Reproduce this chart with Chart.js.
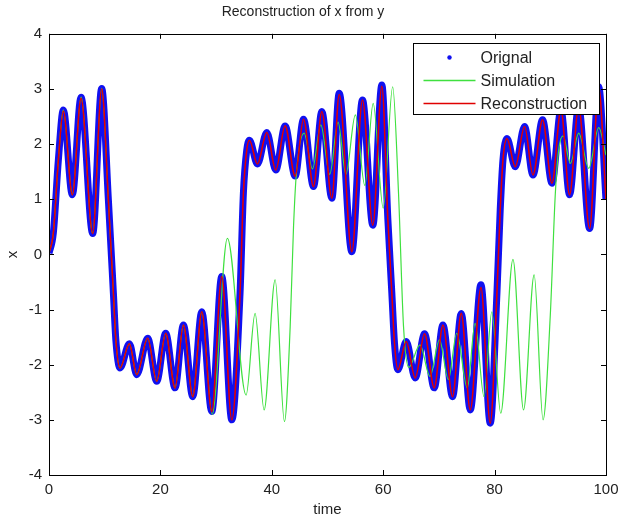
<!DOCTYPE html>
<html>
<head>
<meta charset="utf-8">
<script src="https://cdn.jsdelivr.net/npm/chart.js@4/dist/chart.umd.min.js"></script>
<style>
html,body{margin:0;padding:0;background:#fff;}
#wrap{width:619px;height:517px;}
</style>
</head>
<body>
<div id="wrap"><canvas id="c" width="619" height="517"></canvas></div>
<script>
// ---- data ----
const origTime = [0,0.78,1.68,2.57,4.19,5.75,7.85,9.46,10.66,11.56,12.0,12.75,14.43,15.75,17.72,19.34,20.95,22.63,24.13,25.81,27.43,29.22,31.02,32.82,34.3,34.9,35.5,35.98,37.42,39.1,40.72,42.39,44.19,45.69,47.49,48.98,50.78,52.1,54.37,56.28,58.14,59.76,60.84,61.55,62.03,62.63,64.13,65.75,67.42,69.16,70.72,72.45,74.01,75.63,77.55,79.22,80.42,81.01,81.5,82.22,83.71,85.38,86.89,88.61,90.3,91.91,93.46,95.08,97.06,98.67,100];
const origX    = [0.02,0.39,1.71,2.62,1.08,2.85,0.38,3.01,0.99,-0.70,-1.55,-2.06,-1.62,-2.18,-1.52,-2.30,-1.43,-2.42,-1.28,-2.58,-1.04,-2.85,-0.40,-3.00,-0.70,1.11,1.89,2.07,1.64,2.21,1.53,2.33,1.42,2.45,1.23,2.59,1.02,2.92,0.05,2.80,0.53,3.07,0.63,-0.70,-1.61,-2.09,-1.58,-2.24,-1.44,-2.42,-1.28,-2.58,-1.07,-2.82,-0.55,-3.06,-0.70,0.81,1.71,2.10,1.59,2.32,1.44,2.44,1.29,2.62,1.08,2.68,0.47,3.04,0.99];

const simTime = [0,0.78,1.68,2.57,4.19,5.75,7.85,9.46,10.66,11.56,12.0,12.75,14.43,15.75,17.72,19.34,20.95,22.63,24.13,25.81,27.43,29.3,32.03,35.39,37.0,38.62,40.6,42.27,43.3,43.9,44.4,45.8,47.3,48.8,50.4,51.9,53.3,55.0,56.7,58.2,60.0,61.7,62.75,63.65,64.6,66.6,68.4,70.1,71.7,73.2,75.1,76.5,78.1,79.5,81.1,83.3,85.2,87.1,88.7,90.0,90.9,91.5,92.3,93.6,95.1,96.9,98.7,100];
const simX    = [0.02,0.39,1.71,2.62,1.08,2.85,0.38,3.01,0.99,-0.70,-1.55,-2.06,-1.62,-2.18,-1.52,-2.30,-1.43,-2.42,-1.28,-2.58,-1.04,-2.90,0.29,-2.55,-1.07,-2.82,-0.46,-3.03,-1.31,0.50,1.45,2.20,1.55,2.35,1.45,2.40,1.45,2.53,1.25,2.74,0.84,3.04,1.11,-1.31,-2.05,-1.64,-2.21,-1.55,-2.27,-1.43,-2.42,-1.25,-2.58,-1.04,-2.88,-0.09,-2.82,-0.37,-3.00,-1.10,1.10,1.89,2.15,1.65,2.20,1.56,2.30,1.80];

const recTime = [0,0.78,1.68,2.57,4.19,5.75,7.85,9.46,10.66,11.56,12.0,12.75,14.43,15.75,17.72,19.34,20.95,22.63,24.13,25.81,27.43,29.22,31.02,32.82,34.3,34.9,35.5,35.98,37.42,39.1,40.72,42.39,44.19,45.69,47.49,48.98,50.78,52.1,54.37,56.28,58.14,59.76,60.84,61.55,62.03,62.63,64.13,65.75,67.42,69.16,70.72,72.45,74.01,75.63,77.55,79.22,80.42,81.01,81.5,82.22,83.71,85.38,86.89,88.61,90.3,91.91,93.46,95.08,97.06,98.67,100];
const recX    = [0.02,0.39,1.71,2.60,1.08,2.83,0.38,3.00,0.99,-0.70,-1.55,-2.06,-1.62,-2.18,-1.52,-2.30,-1.43,-2.42,-1.28,-2.58,-1.04,-2.85,-0.40,-3.00,-0.70,1.11,1.89,2.07,1.64,2.21,1.53,2.33,1.42,2.45,1.23,2.59,1.02,2.90,0.05,2.80,0.53,3.05,0.63,-0.70,-1.61,-2.09,-1.58,-2.24,-1.44,-2.42,-1.28,-2.58,-1.07,-2.82,-0.60,-3.06,-0.70,0.81,1.71,2.10,1.59,2.32,1.44,2.44,1.29,2.62,1.08,2.68,0.47,3.04,0.99];

const xTicks = [0,20,40,60,80,100];
const yTicks = [-4,-3,-2,-1,0,1,2,3,4];
const seriesNames = ['Orignal','Simulation','Reconstruction'];
const titleText = 'Reconstruction of x from y';
const xTitle = 'time';
const yTitle = 'x';

// ---- build ----
const pts = (t, v) => t.map((x, i) => ({x: x, y: v[i]}));
const FONT = 'Liberation Sans, Arial, Helvetica, sans-serif';
const BLUE = '#1010f0', GREEN = '#3fe03f', RED = '#e00000';
const TXT = '#222';

const boxPlugin = {
  id: 'matlabBox',
  afterDatasetsDraw(chart) {
    const {ctx, chartArea: a, scales} = chart;
    ctx.save();
    ctx.strokeStyle = '#000';
    ctx.lineWidth = 1;
    ctx.strokeRect(Math.round(a.left) + 0.5, Math.round(a.top) + 0.5, Math.round(a.right - a.left), Math.round(a.bottom - a.top));
    const tl = 5;
    ctx.beginPath();
    xTicks.forEach(v => {
      const px = Math.round(scales.x.getPixelForValue(v)) + 0.5;
      ctx.moveTo(px, a.bottom); ctx.lineTo(px, a.bottom - tl);
      ctx.moveTo(px, a.top); ctx.lineTo(px, a.top + tl);
    });
    yTicks.forEach(v => {
      const py = Math.round(scales.y.getPixelForValue(v)) + 0.5;
      ctx.moveTo(a.left, py); ctx.lineTo(a.left + tl, py);
      ctx.moveTo(a.right, py); ctx.lineTo(a.right - tl, py);
    });
    ctx.stroke();

    // legend
    const w = 186, h = 71;
    const L = Math.round(a.right - 7 - w) + 0.5, T = Math.round(a.top + 9) + 0.5;
    ctx.fillStyle = '#fff';
    ctx.fillRect(L, T, w, h);
    ctx.strokeStyle = '#000';
    ctx.lineWidth = 1;
    ctx.strokeRect(L, T, w, h);
    const rows = [T + 14, T + 37, T + 60];
    ctx.fillStyle = BLUE;
    ctx.beginPath(); ctx.arc(L + 36, rows[0], 2.2, 0, Math.PI * 2); ctx.fill();
    ctx.lineWidth = 1.3;
    ctx.strokeStyle = GREEN;
    ctx.beginPath(); ctx.moveTo(L + 10, rows[1]); ctx.lineTo(L + 62, rows[1]); ctx.stroke();
    ctx.strokeStyle = RED;
    ctx.beginPath(); ctx.moveTo(L + 10, rows[2]); ctx.lineTo(L + 62, rows[2]); ctx.stroke();
    ctx.font = '16px ' + FONT;
    ctx.textBaseline = 'middle';
    ctx.textAlign = 'left';
    ctx.fillStyle = TXT;
    seriesNames.forEach((n, i) => ctx.fillText(n, L + 67, rows[i] + 1));
    ctx.restore();
  }
};

new Chart(document.getElementById('c'), {
  type: 'line',
  data: {
    datasets: [
      { label: seriesNames[0], data: pts(origTime, origX), borderColor: BLUE, backgroundColor: BLUE,
        borderWidth: 7, pointRadius: 0, cubicInterpolationMode: 'monotone', order: 2 },
      { label: seriesNames[1], data: pts(simTime, simX), borderColor: GREEN, backgroundColor: GREEN,
        borderWidth: 1.2, pointRadius: 0, cubicInterpolationMode: 'monotone', order: 1 },
      { label: seriesNames[2], data: pts(recTime, recX), borderColor: RED, backgroundColor: RED,
        borderWidth: 1.6, pointRadius: 0, cubicInterpolationMode: 'monotone', order: 0 }
    ]
  },
  options: {
    responsive: false,
    animation: false,
    devicePixelRatio: 1,
    layout: { padding: { left: 0, right: 13, top: 0, bottom: 0 } },
    plugins: {
      legend: { display: false },
      tooltip: { enabled: false },
      title: { display: true, text: titleText, color: TXT,
        font: { family: FONT, size: 14, weight: 'normal', lineHeight: 1.2 }, padding: { top: 4, bottom: 13 } }
    },
    scales: {
      x: {
        type: 'linear', min: 0, max: 100,
        afterBuildTicks: s => { s.ticks = xTicks.map(v => ({value: v})); },
        afterFit: s => { s.height = 42; s.paddingLeft = 0; s.paddingRight = 0; },
        grid: { display: false, drawTicks: false },
        border: { display: false },
        ticks: { color: TXT, padding: 6, maxRotation: 0, font: { family: FONT, size: 15 } },
        title: { display: true, text: xTitle, color: TXT, padding: { top: 0, bottom: 0 },
          font: { family: FONT, size: 15, lineHeight: 1.0 } }
      },
      y: {
        type: 'linear', min: -4, max: 4,
        afterBuildTicks: s => { s.ticks = yTicks.map(v => ({value: v})); },
        afterFit: s => { s.width = 49; s.paddingTop = 0; s.paddingBottom = 0; },
        grid: { display: false, drawTicks: false },
        border: { display: false },
        ticks: { color: TXT, padding: 7, font: { family: FONT, size: 15 } },
        title: { display: true, text: yTitle, color: TXT, padding: { top: 4, bottom: 0 },
          font: { family: FONT, size: 15 } }
      }
    }
  },
  plugins: [boxPlugin]
});
</script>
</body>
</html>
